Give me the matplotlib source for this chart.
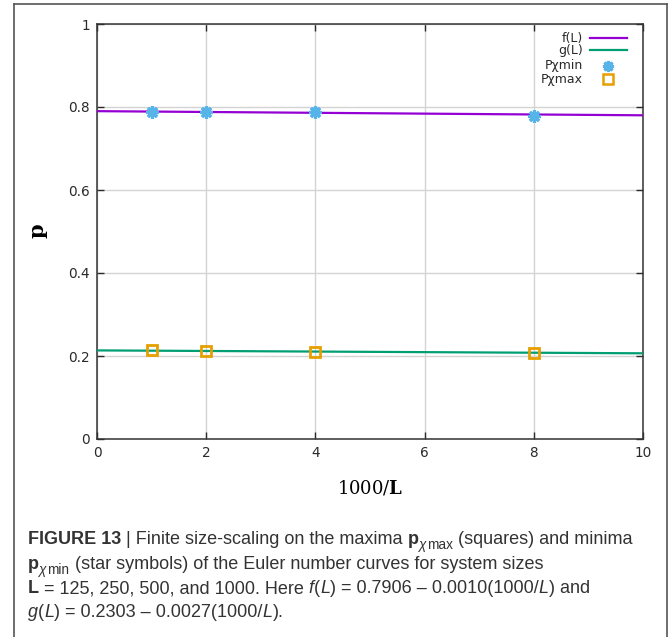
import matplotlib
matplotlib.use("Agg")
import matplotlib.pyplot as plt
from matplotlib.lines import Line2D
import numpy as np

# ---- data ----
x_pts = [1, 2, 4, 8]                      # 1000/L for L = 1000, 500, 250, 125
p_chi_min = [0.788, 0.788, 0.787, 0.779]  # stars
p_chi_max = [0.2145, 0.213, 0.2095, 0.208]  # squares
x_line = [0, 10]
f_line = [0.790, 0.780]
g_line = [0.2135, 0.2065]
xticks = [0, 2, 4, 6, 8, 10]
yticks = [0, 0.2, 0.4, 0.6, 0.8, 1]
ytick_labels = ["0", "0.2", "0.4", "0.6", "0.8", "1"]

C_F = "#9400D3"
C_G = "#009E73"
C_MIN = "#56B4E9"
C_MAX = "#E69F00"
TXT = "#2a2a2a"

plt.rcParams["mathtext.fontset"] = "dejavuserif"

W, H = 669, 637
fig = plt.figure(figsize=(W / 100, H / 100), dpi=100)
ax = fig.add_axes([97 / W, 1 - 439 / H, (643 - 97) / W, (439 - 24) / H])

ax.plot(x_line, f_line, color=C_F, lw=1.6, zorder=3)
ax.plot(x_line, g_line, color=C_G, lw=1.6, zorder=3)
ax.plot(x_pts, p_chi_min, ls="none", marker=(8, 2, 0), ms=9, mew=2.3,
        color=C_MIN, zorder=4)
ax.plot(x_pts, p_chi_max, ls="none", marker="s", ms=7.5, mew=2.0,
        mfc="none", mec=C_MAX, zorder=4)

ax.set_xlim(0, 10)
ax.set_ylim(0, 1)
ax.set_xticks(xticks)
ax.set_yticks(yticks)
ax.set_yticklabels(ytick_labels)
ax.grid(True, color="#d3d3d3", lw=1.0)
ax.set_axisbelow(True)
ax.tick_params(direction="in", length=5, width=1, top=True, right=True,
               labelsize=9.8, colors=TXT, pad=5)
for s in ax.spines.values():
    s.set_color("#333333")
    s.set_linewidth(1.1)

ax.set_xlabel(r"$\mathrm{1000/}\mathbf{L}$", fontsize=13)
ax.xaxis.set_label_coords(0.5, -(488 - 439) / 415, transform=ax.transAxes)
ax.xaxis.label.set_va("center")
ax.set_ylabel(r"$\mathbf{p}$", fontsize=15)
ax.yaxis.set_label_coords(-(97 - 40) / 546, 0.5, transform=ax.transAxes)
ax.yaxis.label.set_va("center")

# ---- gnuplot-style legend (top right, text right-aligned) ----
leg_fs = 9
tx = 0.890
sx0, sx1, mx = 0.903, 0.971, 0.936
rows = [0.966, 0.937, 0.899, 0.867]
labels = ["f(L)", "g(L)", "Pχmin", "Pχmax"]
for yy, lab in zip(rows, labels):
    ax.text(tx, yy, lab, transform=ax.transAxes, ha="right", va="center",
            fontsize=leg_fs, color=TXT)
ax.plot([sx0, sx1], [rows[0]] * 2, transform=ax.transAxes, color=C_F, lw=1.6)
ax.plot([sx0, sx1], [rows[1]] * 2, transform=ax.transAxes, color=C_G, lw=1.6)
ax.plot([mx], [rows[2]], transform=ax.transAxes, marker=(8, 2, 0), ms=8,
        mew=2.1, color=C_MIN)
ax.plot([mx], [rows[3]], transform=ax.transAxes, marker="s", ms=6.5, mew=1.8,
        mfc="none", mec=C_MAX)

# ---- outer frame ----
fx0, fx1, fy1 = 14 / W, 667 / W, 1 - 4 / H
for xs, ys in [([fx0, fx0], [0, fy1]), ([fx0, fx1], [fy1, fy1]),
               ([fx1, fx1], [fy1, 0])]:
    fig.add_artist(Line2D(xs, ys, transform=fig.transFigure, color="#555555",
                          lw=1.2))

# ---- caption ----
CAP_FS = 13.0
SUB_FS = 9.8
FAM = ["Liberation Sans", "DejaVu Sans"]
CC = "#333333"
styles = {
    "n": dict(fontsize=CAP_FS, family=FAM, color=CC),
    "b": dict(fontsize=CAP_FS, family=FAM, weight="bold", color=CC),
    "i": dict(fontsize=CAP_FS, family=FAM, style="italic", color=CC),
    "s": dict(fontsize=SUB_FS, family=FAM, color=CC),
    "si": dict(fontsize=SUB_FS, family=FAM, style="italic", color=CC),
}
lines = [
    [("FIGURE 13 ", "b"), ("| Finite size-scaling on the maxima ", "n"),
     ("p", "b"), ("χ", "si"), ("max", "s"), (" (squares) and minima", "n")],
    [("p", "b"), ("χ", "si"), ("min", "s"),
     (" (star symbols) of the Euler number curves for system sizes", "n")],
    [("L", "b"), (" = 125, 250, 500, and 1000. Here ", "n"), ("f", "i"),
     ("(", "n"), ("L", "i"), (") = 0.7906 – 0.0010(1000/", "n"), ("L", "i"),
     (") and", "n")],
    [("g", "i"), ("(", "n"), ("L", "i"), (") = 0.2303 – 0.0027(1000/", "n"),
     ("L", "i"), (").", "n")],
]
line_y = [544, 569, 593, 617]
renderer = fig.canvas.get_renderer()
for segs, yp in zip(lines, line_y):
    xp = 28.0
    for txt, st in segs:
        dy = 5 if st in ("s", "si") else 0
        t = fig.text(xp / W, 1 - (yp + dy) / H, txt, ha="left",
                     va="baseline", **styles[st])
        bb = t.get_window_extent(renderer=renderer)
        xp += bb.width
        if st == "si":
            xp += 1

fig.savefig("out.png", dpi=100)
